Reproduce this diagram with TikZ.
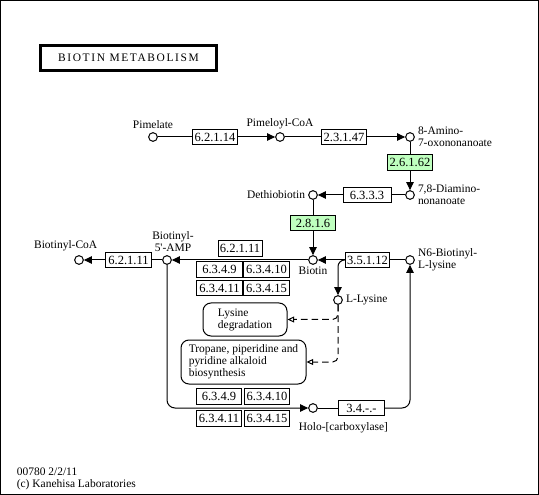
\documentclass[tikz,border=0pt]{standalone}
\usepackage{fontspec}
\setmainfont{Liberation Serif}
\usetikzlibrary{positioning,arrows.meta}
\definecolor{enzgreen}{HTML}{BFFFBF}
\tikzset{
  font={\fontsize{8.6pt}{9pt}\selectfont},
  cpd/.style={circle,draw,fill=white,inner sep=0pt,minimum size=6.5pt},
  enz/.style={draw,fill=white,inner sep=1pt,minimum width=34pt,minimum height=11.5pt,font={\fontsize{9.4pt}{10pt}\selectfont}},
  enzg/.style={enz,fill=enzgreen},
  mapbox/.style={draw,rounded corners=6pt,align=left,inner sep=2pt},
  lbl/.style={inner sep=1pt},
  rx/.style={-{Triangle[length=6pt,width=5.5pt]}},
  rxo/.style={-{Triangle[open,length=5pt,width=4.5pt]},dash pattern=on 5pt off 3pt}}

\begin{document}
\begin{tikzpicture}[x=0.75pt,y=-0.75pt,line width=0.75pt]
%% frame and title
\useasboundingbox (0,0) rectangle (539,495);
\draw (0.5,0.5) rectangle (538.5,494.5);
\node[draw,line width=2.25pt,minimum width=132pt,minimum height=19pt] (title) at (128.5,57.75) {\addfontfeature{LetterSpace=14}BIOTIN METABOLISM};
%% compounds
\node[cpd] (pim) at (153,137) {};
\node[cpd] (pimcoa) at (280,137) {};
\node[cpd] (aon) at (410,137) {};
\node[cpd] (dan) at (410,195) {};
\node[cpd] (dtb) at (313,195) {};
\node[cpd] (btn) at (313,260) {};
\node[cpd] (amp) at (167,260) {};
\node[cpd] (bcoa) at (79,260) {};
\node[cpd] (n6) at (410,260) {};
\node[cpd] (lys) at (338,300) {};
\node[cpd] (holo) at (313,408) {};
%% compound names
\node[lbl,above=1pt of pim] (pimlbl) {Pimelate};
\node[lbl,above=1pt of pimcoa] (pimcoalbl) {Pimeloyl-CoA};
\node[lbl,right=1pt of aon,align=left] (aonlbl) {8-Amino-\\7-oxononanoate};
\node[lbl,right=1pt of dan,align=left] (danlbl) {7,8-Diamino-\\nonanoate};
\node[lbl,left=1pt of dtb] (dtblbl) {Dethiobiotin};
\node[lbl,below=0pt of btn] (btnlbl) {Biotin};
\node[lbl,above=1pt of amp,xshift=4.5pt,align=center] (amplbl) {Biotinyl-\\5\textquotesingle-AMP};
\node[lbl,above=2pt of bcoa,xshift=-10pt] (bcoalbl) {Biotinyl-CoA};
\node[lbl,right=1pt of n6,align=left] (n6lbl) {N6-Biotinyl-\\L-lysine};
\node[lbl,right=1pt of lys] (lyslbl) {L-Lysine};
\node[lbl,anchor=north west] (hololbl) at (297,421) {Holo-[carboxylase]};
%% enzymes
\node[enz] (e62114) at (215,137) {6.2.1.14};
\node[enz] (e23147) at (344,137) {2.3.1.47};
\node[enzg] (e26162) at (410,162.5) {2.6.1.62};
\node[enz,minimum width=36pt] (e6333) at (367,195) {6.3.3.3};
\node[enzg] (e2816) at (313,223) {2.8.1.6};
\node[enz,minimum width=32pt] (e35112) at (367.5,260) {3.5.1.12};
\node[enz] (e62111a) at (128.5,260) {6.2.1.11};
\node[enz,minimum width=33pt] (e62111b) at (240,248.5) {6.2.1.11};
\node[enz] (e6349a) at (219.5,269.5) {6.3.4.9};
\node[enz] (e63410a) at (266.5,269.5) {6.3.4.10};
\node[enz] (e63411a) at (219.5,288) {6.3.4.11};
\node[enz] (e63415a) at (266.5,288) {6.3.4.15};
\node[enz] (e6349b) at (219,396.5) {6.3.4.9};
\node[enz] (e63410b) at (267,396.5) {6.3.4.10};
\node[enz] (e63411b) at (219,418.5) {6.3.4.11};
\node[enz] (e63415b) at (267,418.5) {6.3.4.15};
\node[enz] (e34) at (361.5,408) {3.4.-.-};
%% maps
\node[mapbox,minimum width=63pt,minimum height=24.75pt] (lysdeg) at (245,319.5) {Lysine\\degradation};
\node[mapbox,minimum width=93.75pt,minimum height=33pt] (tropane) at (243.5,362) {Tropane, piperidine and\\pyridine alkaloid\\biosynthesis};
%% reactions
\draw (pim) -- (e62114);
\draw[rx] (e62114) -- (pimcoa);
\draw (pimcoa) -- (e23147);
\draw[rx] (e23147) -- (aon);
\draw (aon) -- (e26162);
\draw[rx] (e26162) -- (dan);
\draw (dan) -- (e6333);
\draw[rx] (e6333) -- (dtb);
\draw (dtb) -- (e2816);
\draw[rx] (e2816) -- (btn);
\draw (n6) -- (e35112);
\draw[rx] (e35112) -- (btn);
\draw[rx] (btn) -- (amp);
\draw (amp) -- (e62111a);
\draw[rx] (e62111a) -- (bcoa);
\draw[rx,rounded corners=6pt] (amp) |- (holo);
\draw (holo) -- (e34);
\draw[rx,rounded corners=6pt] (e34) -| (n6);
\draw[rx,rounded corners=5pt] (e35112.west) -| (lys);
%% links to other maps
\draw[rxo,rounded corners=4pt] (lys) |- (lysdeg);
\draw[rxo,rounded corners=4pt] (lys) |- (tropane);
\node[lbl,anchor=west,align=left] (footer) at (15,478.5) {00780 2/2/11\\(c) Kanehisa Laboratories};
\end{tikzpicture}
\end{document}
